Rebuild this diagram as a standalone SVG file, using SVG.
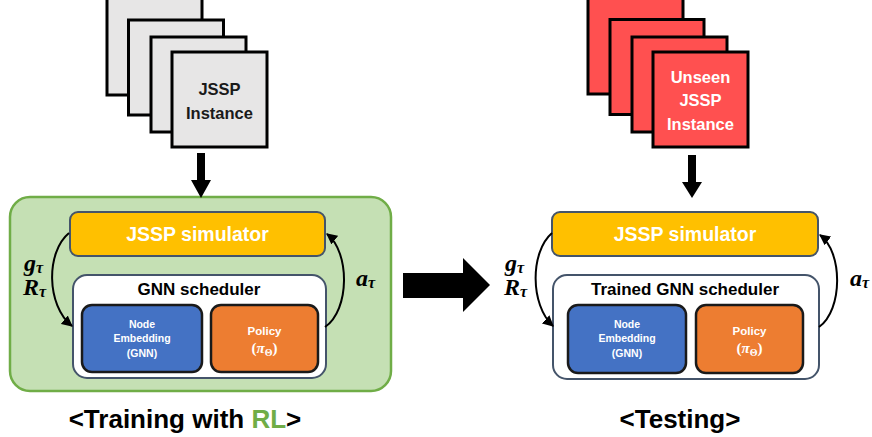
<svg xmlns="http://www.w3.org/2000/svg" width="872" height="437" viewBox="0 0 872 437">
<style>
.t{font-family:"Liberation Sans",Arial,sans-serif;font-weight:bold;text-anchor:middle}
.m{font-family:"Liberation Serif","Times New Roman",serif;font-weight:bold;font-style:italic}
.gray{fill:#e7e6e6;stroke:#000;stroke-width:3}
.red{fill:#ff5050;stroke:#000;stroke-width:3}
.sim{fill:#ffc000;stroke:#44546a;stroke-width:2}
.sched{fill:#fff;stroke:#44546a;stroke-width:2}
.emb{fill:#4472c4;stroke:#1a1a1a;stroke-width:2.5}
.pol{fill:#ed7d31;stroke:#1a1a1a;stroke-width:2.5}
.curve{fill:none;stroke:#000;stroke-width:2;marker-end:url(#ah)}
</style>
<defs>
<marker id="ah" viewBox="0 0 10 10" refX="9" refY="5" markerWidth="5.5" markerHeight="5.5" orient="auto" markerUnits="strokeWidth">
<path d="M0,0 L10,5 L0,10 z" fill="#000"/>
</marker>
</defs>
<rect width="872" height="437" fill="#fff"/>

<g id="training-frame">
<rect x="10" y="197" width="381" height="194" rx="20" fill="#c5e0b4" stroke="#70ad47" stroke-width="2.5"/>
</g>

<g id="train-instances">
<rect class="gray" x="107" y="-2" width="95" height="97"/>
<rect class="gray" x="128.5" y="20" width="95" height="95"/>
<rect class="gray" x="151" y="37" width="95" height="95"/>
<rect class="gray" x="172" y="52" width="95" height="95"/>
<text class="t" x="219.5" y="95" font-size="16.5" fill="#1a1a1a">JSSP</text>
<text class="t" x="219.5" y="119" font-size="16.5" fill="#1a1a1a">Instance</text>
</g>

<g id="train-sim">
<rect class="sim" x="70" y="212" width="255" height="44" rx="8"/>
<text class="t" x="197.5" y="241" font-size="19.5" fill="#fff">JSSP simulator</text>
</g>

<g id="train-sched">
<rect class="sched" x="73" y="275" width="253" height="103" rx="14"/>
<text class="t" x="199" y="295" font-size="17" fill="#000">GNN scheduler</text>
</g>
<g id="train-emb">
<rect class="emb" x="82" y="305" width="120" height="67" rx="10"/>
<text class="t" x="142" y="328" font-size="10.5" fill="#fff">Node</text>
<text class="t" x="142" y="342" font-size="10.5" fill="#fff">Embedding</text>
<text class="t" x="142" y="357" font-size="10.5" fill="#fff">(GNN)</text>
</g>
<g id="train-policy">
<rect class="pol" x="211" y="305" width="107" height="67" rx="10"/>
<text class="t" x="264.5" y="335" font-size="11.5" fill="#fff">Policy</text>
<text x="264.5" y="353" font-size="15" fill="#fff" text-anchor="middle" font-family="Liberation Serif,serif" font-weight="bold">(<tspan font-style="italic">π</tspan><tspan font-size="10" dy="3">Θ</tspan><tspan dy="-3">)</tspan></text>
</g>

<g id="test-instances">
<rect class="red" x="588" y="-2" width="95" height="96"/>
<rect class="red" x="610" y="19.5" width="94" height="95"/>
<rect class="red" x="632" y="37" width="95" height="95"/>
<rect class="red" x="653" y="52" width="95" height="95"/>
<text class="t" x="700.5" y="83" font-size="16.5" fill="#fff">Unseen</text>
<text class="t" x="700.5" y="106" font-size="16.5" fill="#fff">JSSP</text>
<text class="t" x="700.5" y="130" font-size="16.5" fill="#fff">Instance</text>
</g>

<g id="test-sim">
<rect class="sim" x="552" y="212" width="266" height="44" rx="8"/>
<text class="t" x="685" y="241" font-size="19.5" fill="#fff">JSSP simulator</text>
</g>
<g id="test-sched">
<rect class="sched" x="553" y="275" width="266" height="104" rx="14"/>
<text class="t" x="685" y="295" font-size="17" fill="#000">Trained GNN scheduler</text>
</g>
<g id="test-emb">
<rect class="emb" x="568" y="305" width="118" height="68" rx="10"/>
<text class="t" x="627" y="328" font-size="10.5" fill="#fff">Node</text>
<text class="t" x="627" y="342" font-size="10.5" fill="#fff">Embedding</text>
<text class="t" x="627" y="357" font-size="10.5" fill="#fff">(GNN)</text>
</g>
<g id="test-policy">
<rect class="pol" x="696" y="305" width="107" height="68" rx="10"/>
<text class="t" x="749.5" y="335" font-size="11.5" fill="#fff">Policy</text>
<text x="749.5" y="353" font-size="15" fill="#fff" text-anchor="middle" font-family="Liberation Serif,serif" font-weight="bold">(<tspan font-style="italic">π</tspan><tspan font-size="10" dy="3">Θ</tspan><tspan dy="-3">)</tspan></text>
</g>

<g id="connectors">
<polygon points="197,153 205,153 205,180 211,180 201,198 191,180 197,180" fill="#000"/>
<polygon points="688,155 696,155 696,182 702,182 692,198 682,182 688,182" fill="#000"/>
<path class="curve" d="M69,233 C46,252 46,305 72,326"/>
<path class="curve" d="M325,327 C350,310 350,252 327,234"/>
<path class="curve" d="M552,233 C530,252 530,305 553,326"/>
<path class="curve" d="M819,327 C843,310 843,252 820,235"/>
<polygon points="403,273 463,273 463,258 490,285 463,312 463,298 403,298" fill="#000"/>
</g>

<g id="labels">
<text class="m" x="24" y="271" font-size="24">g<tspan font-size="16" dy="2">τ</tspan></text>
<text class="m" x="23" y="295" font-size="24">R<tspan font-size="16" dy="2">τ</tspan></text>
<text class="m" x="356" y="286" font-size="24">a<tspan font-size="16" dy="2">τ</tspan></text>
<text class="m" x="505" y="271" font-size="24">g<tspan font-size="16" dy="2">τ</tspan></text>
<text class="m" x="504" y="295" font-size="24">R<tspan font-size="16" dy="2">τ</tspan></text>
<text class="m" x="850" y="286" font-size="24">a<tspan font-size="16" dy="2">τ</tspan></text>
<text class="t" x="185" y="428" font-size="26" fill="#000">&lt;Training with <tspan fill="#70ad47">RL</tspan>&gt;</text>
<text class="t" x="680" y="428" font-size="26" fill="#000">&lt;Testing&gt;</text>
</g>
</svg>
